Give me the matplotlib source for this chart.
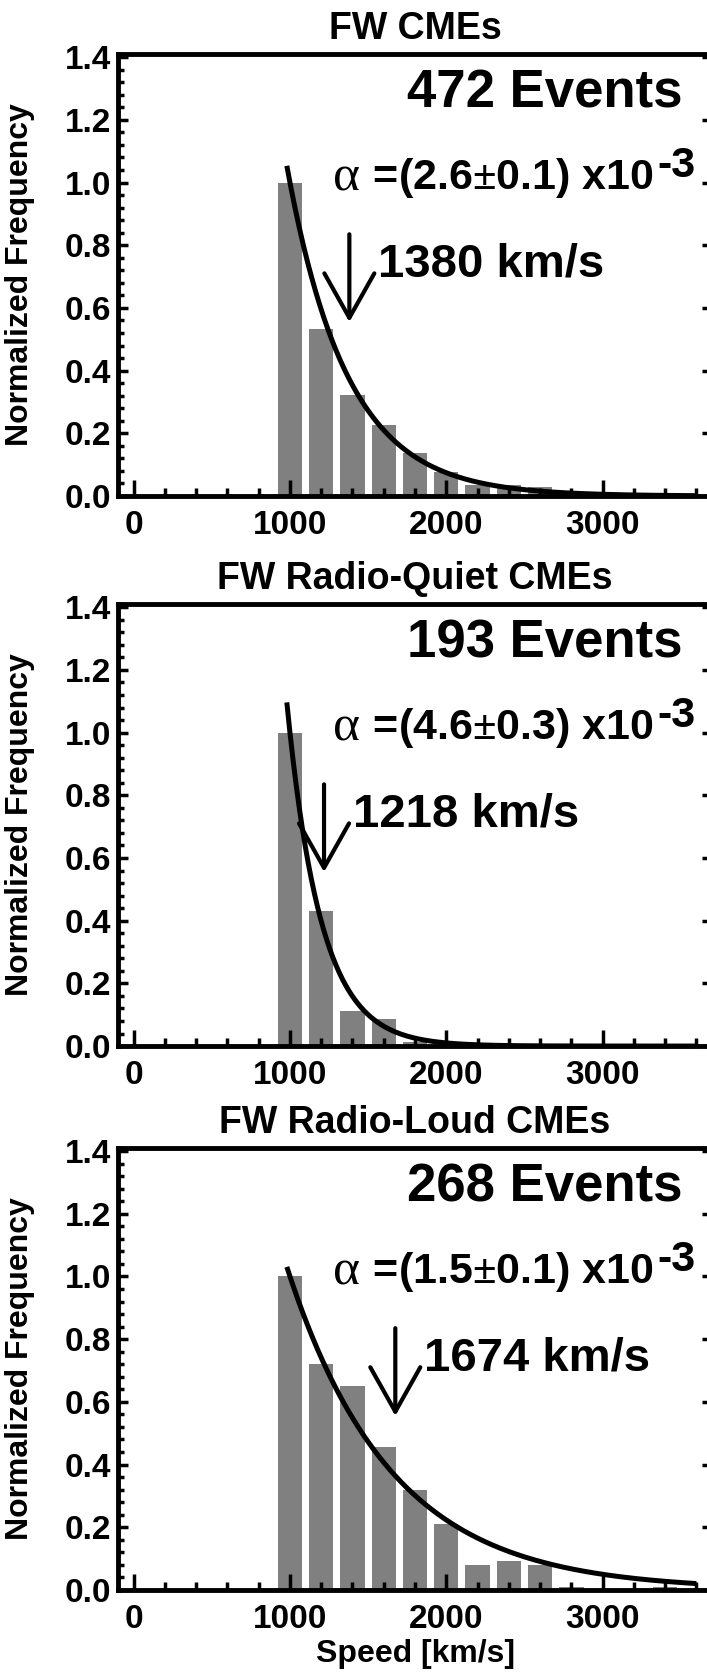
import matplotlib

# no display in the sandbox
matplotlib.use("Agg")

import matplotlib.pyplot as plt
from matplotlib.ticker import MultipleLocator
import numpy as np


# ==================================================
# Values
# ==================================================
panel_titles = ["FW CMEs", "FW Radio-Quiet CMEs", "FW Radio-Loud CMEs"]
event_counts = [472, 193, 268]
alpha_values = [2.6, 4.6, 1.5]      # x10^-3
alpha_errors = [0.1, 0.3, 0.1]
median_speeds = [1380, 1218, 1674]

speed_bins = [1000, 1200, 1400, 1600, 1800, 2000, 2200,
              2400, 2600, 2800, 3000, 3200, 3400, 3600]

freq_all = [1.0, 0.533, 0.323, 0.225, 0.136, 0.078, 0.036,
            0.035, 0.028, 0.0, 0.0, 0.0, 0.004, 0.004]
freq_quiet = [1.0, 0.43, 0.112, 0.085, 0.012, 0.0, 0.0,
              0.0, 0.0, 0.0, 0.0, 0.0, 0.0, 0.0]
freq_loud = [1.0, 0.72, 0.65, 0.455, 0.32, 0.21, 0.08,
             0.093, 0.08, 0.008, 0.0, 0.0, 0.008, 0.0]

panel_freqs = [freq_all, freq_quiet, freq_loud]

x_ticks = [0, 1000, 2000, 3000]
fit_range = (980, 3600)


# ==================================================
# Style
# ==================================================
plt.rcParams["font.family"] = ["Liberation Sans", "DejaVu Sans"]
plt.rcParams["font.weight"] = "bold"
plt.rcParams["mathtext.fontset"] = "custom"
plt.rcParams["mathtext.rm"] = "Liberation Serif"
plt.rcParams["mathtext.it"] = "Liberation Serif:italic"
plt.rcParams["mathtext.bf"] = "Liberation Sans:bold"

TICK_SIZE = 24
LABEL_SIZE = 23
AXIS_LW = 3.5
SERIF = ["Liberation Serif", "DejaVu Serif"]


def style_axes(ax, last):
    ax.set_xlim(-100, 3700)
    ax.set_ylim(0, 1.41)

    ax.set_xticks(x_ticks)
    ax.xaxis.set_minor_locator(MultipleLocator(200))
    ax.yaxis.set_major_locator(MultipleLocator(0.2))
    ax.yaxis.set_minor_locator(MultipleLocator(0.04))
    ax.yaxis.set_major_formatter(lambda v, p: f"{v:.1f}")

    for sp in ax.spines.values():
        sp.set_linewidth(AXIS_LW)

    ax.tick_params(axis="x", which="both", direction="in", top=False,
                   width=2.5, labelsize=TICK_SIZE, pad=10)
    ax.tick_params(axis="x", which="major", length=11.5)
    ax.tick_params(axis="x", which="minor", length=5.5)
    ax.tick_params(axis="y", which="both", direction="in", right=True,
                   width=2.5, labelsize=TICK_SIZE, pad=5)
    ax.tick_params(axis="y", which="major", length=7.5)
    ax.tick_params(axis="y", which="minor", length=4.3, right=False)

    ax.set_ylabel("Normalized Frequency", fontsize=LABEL_SIZE,
                  fontweight="bold")
    ax.yaxis.set_label_coords(-0.14, 0.5)

    if last:
        ax.set_xlabel("Speed [km/s]", fontsize=LABEL_SIZE, fontweight="bold")
        ax.xaxis.set_label_coords(0.5, -0.11)


def alpha_text(ax, alpha, alpha_err, size=31):
    # bold body, serif alpha in front, full-size raised exponent behind
    descent = 0.212 * size
    body = ax.text(3330, 0.98, r" =(%.1f${\pm}$%.1f) x10" % (alpha, alpha_err),
                   ha="right", va="baseline", fontsize=size, fontweight="bold")
    ax.annotate("\u03b1", xy=(0, 0), xycoords=body,
                xytext=(-1, descent), textcoords="offset points",
                ha="right", va="baseline", fontsize=37,
                family=SERIF, fontweight="normal")
    ax.annotate("-3", xy=(1, 0), xycoords=body,
                xytext=(2, descent + 10), textcoords="offset points",
                ha="left", va="baseline", fontsize=size, fontweight="bold")


def draw_panel(ax, title, freqs, n_events, alpha, alpha_err, median, last):
    ax.bar(speed_bins, freqs, width=156, color="#808080",
           linewidth=0, zorder=1)

    # exponential fit, normalised to the first bin
    v = np.linspace(fit_range[0], fit_range[1], 400)
    ax.plot(v, np.exp(-alpha * 1e-3 * (v - speed_bins[0])),
            color="black", lw=3.6, zorder=3, solid_capstyle="butt")

    ax.set_title(title, fontsize=27, fontweight="bold", pad=11)

    ax.text(3510, 1.24, f"{n_events} Events", ha="right", va="baseline",
            fontsize=38, fontweight="bold")

    alpha_text(ax, alpha, alpha_err)

    ax.annotate("", xy=(median, 0.555), xytext=(median, 0.835),
                arrowprops=dict(arrowstyle="->,head_length=32,head_width=18",
                                mutation_scale=1, lw=3, color="black",
                                shrinkA=0, shrinkB=0))
    ax.text(median + 185, 0.70, f"{median} km/s", ha="left", va="baseline",
            fontsize=34, fontweight="bold")

    style_axes(ax, last)


# ==================================================
# Figure
# ==================================================
fig = plt.figure(figsize=(7.07, 16.78), dpi=100)

left, width, height = 0.1669, 0.8402, 0.2634
bottoms = [0.7044, 0.3766, 0.0525]

for i in range(3):
    ax = fig.add_axes([left, bottoms[i], width, height])
    draw_panel(ax, panel_titles[i], panel_freqs[i], event_counts[i],
               alpha_values[i], alpha_errors[i], median_speeds[i], i == 2)

fig.savefig("out.png", dpi=100)
plt.close(fig)
